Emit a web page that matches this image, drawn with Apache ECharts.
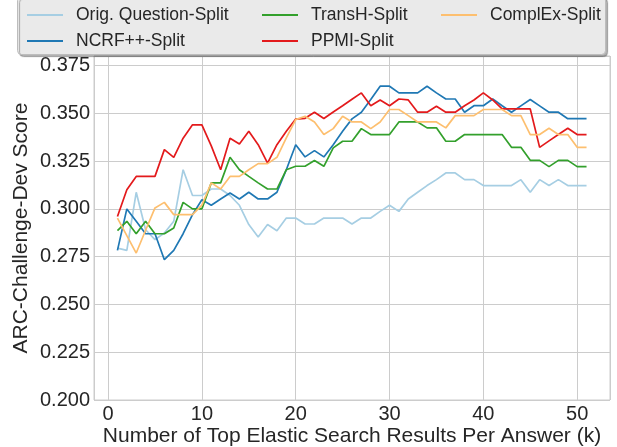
<!DOCTYPE html>
<html>
<head>
<meta charset="utf-8">
<script src="https://cdn.jsdelivr.net/npm/echarts@6/dist/echarts.min.js"></script>
<style>
  html, body { margin: 0; padding: 0; background: #fff; }
  #chart { width: 617px; height: 447px; }
</style>
</head>
<body>
<div id="chart"></div>
<script>
// k = 1 .. 51
var kValues = [];
for (var i = 1; i <= 51; i++) kValues.push(i);

var seriesNames = ["Orig. Question-Split", "NCRF++-Split", "TransH-Split", "PPMI-Split", "ComplEx-Split"];
var seriesColors = ["#a6cee3", "#1f78b4", "#33a02c", "#e31a1c", "#fdbf6f"];

var origScores = [
  0.2795, 0.2783, 0.3087, 0.2891, 0.2839, 0.2874, 0.2935, 0.3205, 0.3070, 0.3070,
  0.3104, 0.3104, 0.3070, 0.3019, 0.2918, 0.2853, 0.2918, 0.2886, 0.2952, 0.2952,
  0.2921, 0.2921, 0.2952, 0.2952, 0.2952, 0.2921, 0.2952, 0.2952, 0.2987, 0.3019,
  0.2987, 0.3052, 0.3087, 0.3122, 0.3153, 0.3188, 0.3188, 0.3153, 0.3153, 0.3122,
  0.3122, 0.3122, 0.3122, 0.3153, 0.3087, 0.3153, 0.3122, 0.3153, 0.3122, 0.3122,
  0.3122
];
var ncrfScores = [
  0.2783, 0.3000, 0.2935, 0.2870, 0.2870, 0.2734, 0.2783, 0.2870, 0.2970, 0.3048,
  0.3019, 0.3052, 0.3083, 0.3052, 0.3087, 0.3052, 0.3052, 0.3087, 0.3205, 0.3336,
  0.3272, 0.3305, 0.3272, 0.3336, 0.3406, 0.3471, 0.3506, 0.3572, 0.3642, 0.3642,
  0.3607, 0.3607, 0.3607, 0.3642, 0.3607, 0.3575, 0.3575, 0.3506, 0.3540, 0.3540,
  0.3575, 0.3540, 0.3506, 0.3539, 0.3572, 0.3539, 0.3506, 0.3506, 0.3472, 0.3472,
  0.3472
];
var transhScores = [
  0.2886, 0.2935, 0.2870, 0.2935, 0.2870, 0.2870, 0.2900, 0.3034, 0.3000, 0.3000,
  0.3136, 0.3136, 0.3270, 0.3205, 0.3170, 0.3136, 0.3104, 0.3104, 0.3205, 0.3223,
  0.3223, 0.3253, 0.3223, 0.3319, 0.3354, 0.3354, 0.3420, 0.3389, 0.3389, 0.3389,
  0.3455, 0.3455, 0.3455, 0.3424, 0.3424, 0.3354, 0.3354, 0.3389, 0.3389, 0.3389,
  0.3389, 0.3389, 0.3322, 0.3322, 0.3254, 0.3254, 0.3221, 0.3254, 0.3254, 0.3221,
  0.3221
];
var ppmiScores = [
  0.2960, 0.3100, 0.3170, 0.3170, 0.3170, 0.3310, 0.3270, 0.3370, 0.3440, 0.3440,
  0.3330, 0.3205, 0.3370, 0.3340, 0.3406, 0.3336, 0.3240, 0.3336, 0.3406, 0.3470,
  0.3474, 0.3506, 0.3473, 0.3507, 0.3540, 0.3574, 0.3607, 0.3540, 0.3570, 0.3540,
  0.3575, 0.3570, 0.3506, 0.3506, 0.3537, 0.3506, 0.3506, 0.3540, 0.3570, 0.3607,
  0.3570, 0.3523, 0.3523, 0.3523, 0.3523, 0.3322, 0.3356, 0.3389, 0.3422, 0.3389,
  0.3389
];
var complexScores = [
  0.2952, 0.2860, 0.2769, 0.2888, 0.3005, 0.3034, 0.2970, 0.2970, 0.2970, 0.3020,
  0.3136, 0.3104, 0.3170, 0.3170, 0.3205, 0.3237, 0.3237, 0.3270, 0.3371, 0.3467,
  0.3485, 0.3455, 0.3389, 0.3420, 0.3485, 0.3455, 0.3455, 0.3420, 0.3455, 0.3520,
  0.3520, 0.3488, 0.3455, 0.3455, 0.3455, 0.3424, 0.3488, 0.3488, 0.3488, 0.3520,
  0.3520, 0.3520, 0.3488, 0.3488, 0.3389, 0.3389, 0.3422, 0.3389, 0.3389, 0.3322,
  0.3322
];
var allScores = [origScores, ncrfScores, transhScores, ppmiScores, complexScores];

var fontFamily = "'Liberation Sans', Arial, sans-serif";
var textColor = "#262626";

var myChart = echarts.init(document.getElementById("chart"), null, { renderer: "canvas" });

// 系列
var series = allScores.map(function (arr, idx) {
  return {
    name: seriesNames[idx],
    type: "line",
    showSymbol: false,
    symbol: "none",
    data: arr.map(function (v, j) { return [kValues[j], v]; }),
    lineStyle: { width: 1.7, color: seriesColors[idx] },
    itemStyle: { color: seriesColors[idx] },
    z: 2
  };
});

// 图例 一列
function legendCol(names, left) {
  return {
    data: names,
    orient: "vertical",
    left: left,
    top: 1,
    itemGap: 8,
    itemWidth: 36,
    itemHeight: 2,
    icon: "rect",
    selectedMode: false,
    z: 10,
    textStyle: { fontSize: 17.5, color: textColor, fontFamily: fontFamily, padding: [0, 0, 0, 8] }
  };
}

var option = {
  animation: false,
  backgroundColor: "#ffffff",
  grid: {
    left: 94, right: 7, top: 56, bottom: 47,
    outerBoundsMode: "none",
    containLabel: false,
    show: true, borderColor: "#cccccc", borderWidth: 1, backgroundColor: "#ffffff"
  },
  graphic: [{
    type: "rect",
    left: 17, top: -4,
    z: 5,
    shape: { width: 588, height: 58, r: 4 },
    style: {
      fill: "#eaeaea", stroke: "#bdbdbd", lineWidth: 1,
      shadowColor: "rgba(0,0,0,0.3)", shadowOffsetX: 2, shadowOffsetY: 2, shadowBlur: 1
    }
  }],
  legend: [
    legendCol([seriesNames[0], seriesNames[1]], 22),
    legendCol([seriesNames[2], seriesNames[3]], 257),
    legendCol([seriesNames[4]], 436)
  ],
  xAxis: {
    type: "value",
    min: -1.5,
    max: 53.5,
    name: "Number of Top Elastic Search Results Per Answer (k)",
    nameLocation: "middle",
    nameGap: 26,
    nameMoveOverlap: false,
    nameTextStyle: { fontSize: 21, color: textColor, fontFamily: fontFamily },
    axisLine: { show: false },
    axisTick: { show: false },
    axisLabel: {
      margin: 4, fontSize: 20, color: textColor, fontFamily: fontFamily,
      formatter: function (v) { return Math.abs(v % 10) < 1e-6 ? String(v) : ""; }
    },
    splitLine: { show: true, lineStyle: { color: "#cccccc", width: 1 } }
  },
  yAxis: {
    type: "value",
    min: 0.2,
    max: 0.38,
    interval: 0.025,
    name: "ARC-Challenge-Dev Score",
    nameLocation: "middle",
    nameGap: 62,
    nameMoveOverlap: false,
    nameTextStyle: { fontSize: 21, color: textColor, fontFamily: fontFamily },
    axisLine: { show: false },
    axisTick: { show: false },
    axisLabel: {
      margin: 4, fontSize: 20, color: textColor, fontFamily: fontFamily,
      formatter: function (v) { return v > 0.376 ? "" : v.toFixed(3); }
    },
    splitLine: { show: true, lineStyle: { color: "#cccccc", width: 1 } }
  },
  series: series
};

myChart.setOption(option);
</script>
</body>
</html>
